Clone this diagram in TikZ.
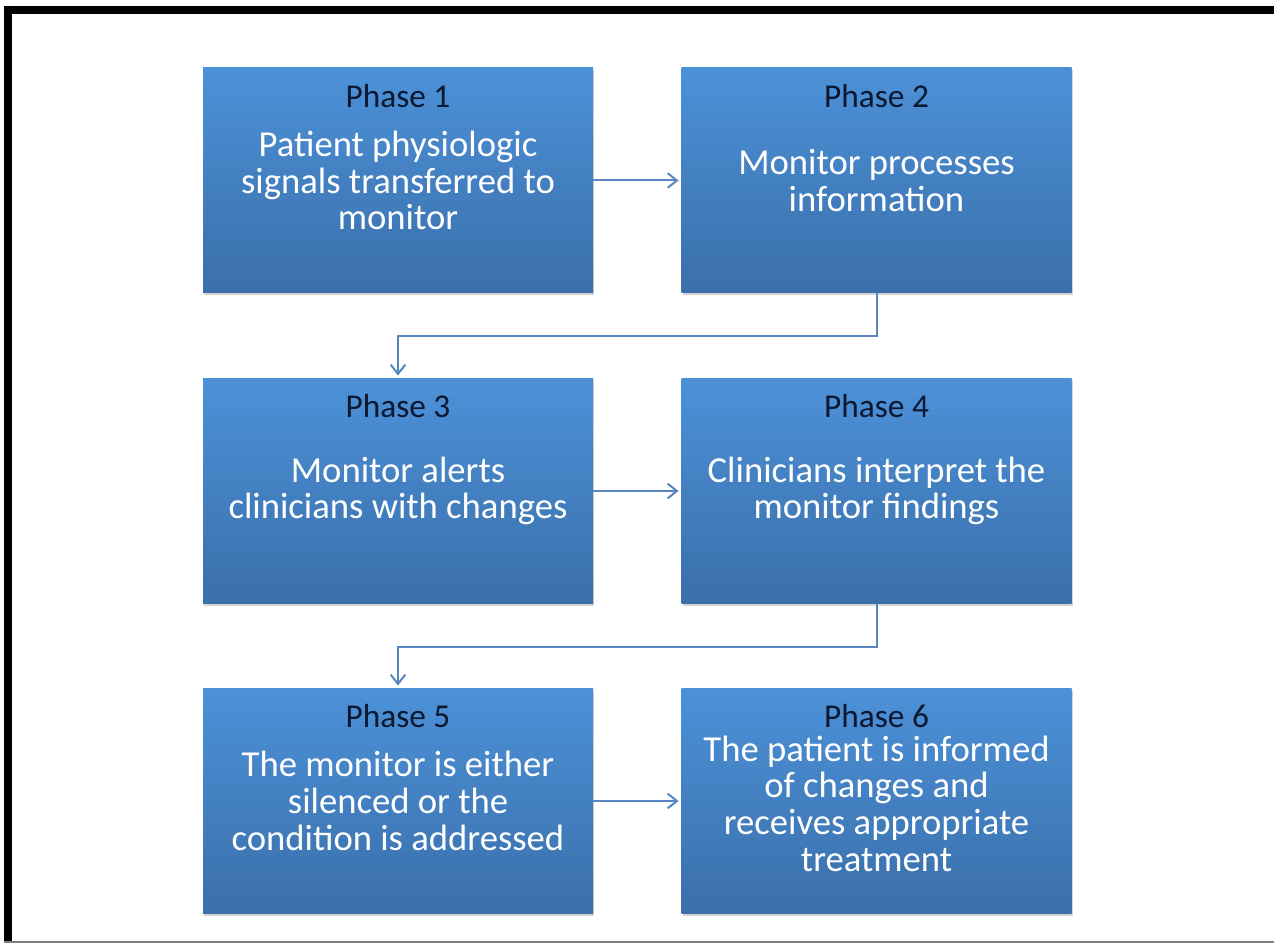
\documentclass[tikz,border=0pt]{standalone}
\usepackage{fontspec}
\setmainfont{Carlito}
\usepackage{tikz}
\usetikzlibrary{arrows.meta,shadows}
\definecolor{PhaseBoxTop}{RGB}{76,145,216}
\definecolor{PhaseBoxBottom}{RGB}{58,111,170}
\definecolor{PhaseLabelColor}{RGB}{12,24,48}
\definecolor{FlowArrowColor}{RGB}{88,134,192}

\begin{document}
\begin{tikzpicture}[x=0.75pt,y=-0.75pt,
  phasebox/.style={rectangle,minimum width=292.5pt,minimum height=168.75pt,top color=PhaseBoxTop,bottom color=PhaseBoxBottom,draw=none,drop shadow={shadow xshift=1pt,shadow yshift=-1.5pt,opacity=0.35}},
  phaselbl/.style={anchor=north,yshift=-12pt,text=PhaseLabelColor,font=\fontsize{25}{28}\selectfont,inner sep=0pt},
  bodytxt/.style={align=center,text=white,font=\fontsize{27.5}{27.5}\selectfont,inner sep=0pt},
  flow/.style={FlowArrowColor,line width=1.5pt,-{Straight Barb[length=7pt,width=11pt,line width=1.5pt]},shorten >=2pt}]
\useasboundingbox (0,0) rectangle (1274,944);
% frame
\fill[black] (4,6) rectangle (1274,14);
\fill[black] (4,6) rectangle (12,942);
\draw[gray,line width=1.5pt] (4,942) -- (1274,942);
% boxes and phase labels
\foreach \n/\x/\y in {1/398/180.5,2/876.5/180.5,3/398/491,4/876.5/491,5/398/801,6/876.5/801} {
   \node[phasebox](p\n) at(\x,\y) {};
   \node[phaselbl](l\n) at(p\n.north) {Phase \n};
}
\node[bodytxt](t1) at(p1) {Patient physiologic\\signals transferred to\\monitor};
\node[bodytxt](t2) at(p2) {Monitor processes\\information};
\node[bodytxt](t3) at(p3) {Monitor alerts\\clinicians with changes};
\node[bodytxt](t4) at(p4) {Clinicians interpret the\\monitor findings};
\node[bodytxt](t5) at(p5) {The monitor is either\\silenced or the\\condition is addressed};
\node[bodytxt,yshift=-2pt](t6) at(p6) {The patient is informed\\of changes and\\receives appropriate\\treatment};
% connectors
\draw[flow] (p1.east) -- (p2.west);
\draw[flow] (p2.south) -- ++(0,43) -| (p3.north);
\draw[flow] (p3.east) -- (p4.west);
\draw[flow] (p4.south) -- ++(0,43) -| (p5.north);
\draw[flow] (p5.east) -- (p6.west);
\end{tikzpicture}
\end{document}
